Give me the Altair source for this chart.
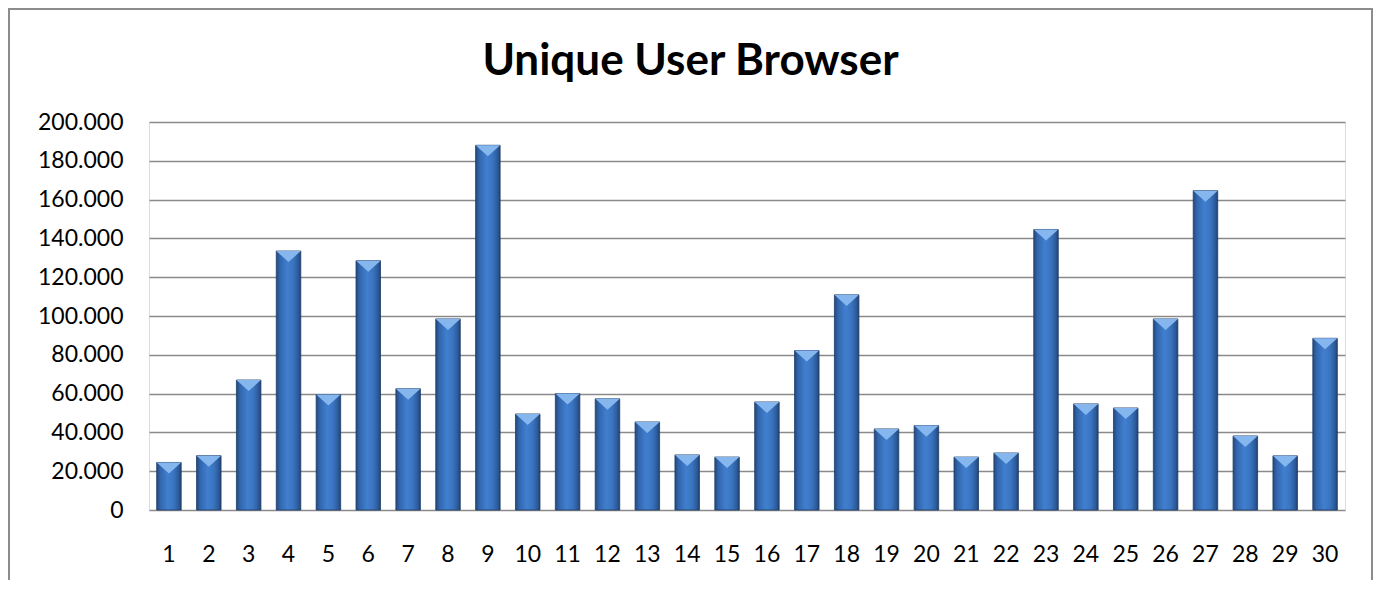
import altair as alt
import pandas as pd

days = list(range(1, 31))
users = [24500, 28000, 67000, 133500, 59500, 128500, 62500, 98500, 188000, 49500,
         60000, 57300, 45400, 28400, 27300, 55700, 82200, 110900, 41800, 43500,
         27300, 29400, 144600, 54700, 52600, 98500, 164600, 38200, 27900, 88500]
y_ticks = list(range(0, 200001, 20000))
title_text = "Unique User Browser"

df = pd.DataFrame({"day": days, "users": users})

FONT = "Lato"

x_axis = alt.Axis(title=None, labelAngle=0, domain=False, ticks=False, tickSize=0,
                  labelPadding=33, labelFontSize=23, labelFont=FONT,
                  labelColor="#000000", grid=False, labelOverlap=False)
y_axis = alt.Axis(title=None, values=y_ticks, tickCount=30, domain=False, ticks=False,
                  tickSize=0, labelPadding=26, labelFontSize=23, labelFont=FONT,
                  labelColor="#000000", grid=True, gridColor="#8a8a8a",
                  gridWidth=1.6, labelOverlap=False,
                  labelExpr="replace(format(datum.value, ','), ',', '.')")

x_enc = alt.X("day:O", sort=days,
              scale=alt.Scale(paddingInner=0.385, paddingOuter=0.1925), axis=x_axis)
y_enc = alt.Y("users:Q", scale=alt.Scale(domain=[0, 200000], nice=False), axis=y_axis)

grad = alt.Gradient(
    gradient="linear", x1=0, x2=1, y1=0, y2=0,
    stops=[alt.GradientStop(offset=0, color="#23497c"),
           alt.GradientStop(offset=0.15, color="#3266ad"),
           alt.GradientStop(offset=0.45, color="#407fcf"),
           alt.GradientStop(offset=0.7, color="#3a74c0"),
           alt.GradientStop(offset=0.9, color="#2c5a99"),
           alt.GradientStop(offset=1, color="#1f4270")])

bars = alt.Chart(df).mark_bar(color=grad, stroke="#1e3d68", strokeWidth=0.8).encode(
    x=x_enc, y=y_enc)

bevel = alt.Chart(df).mark_point(
    shape="M -1 0 L 1 0 L 0 0.9 Z", filled=True, size=600,
    color="#86b6ee", opacity=1, strokeWidth=0).encode(x=x_enc, y=y_enc)

one = pd.DataFrame({"t": [title_text]})

border = alt.Chart(one).mark_rect(
    filled=False, stroke="#8c8c8c", strokeWidth=2).encode(
    x=alt.value(-140), x2=alt.value(1223), y=alt.value(-113), y2=alt.value(480))

title = alt.Chart(one).mark_text(
    font=FONT, fontSize=44, fontWeight="bold", color="#000000",
    align="center", baseline="alphabetic").encode(
    text="t:N", x=alt.value(541.5), y=alt.value(-47))

chart = alt.layer(border, bars, bevel, title).properties(
    width=1196, height=388,
    autosize=alt.AutoSizeParams(type="none"),
    padding={"left": 141, "top": 114, "right": 28, "bottom": 70},
).configure_view(stroke="transparent", strokeWidth=0).configure(background="#ffffff")

chart.save("out.html", embed_options={"renderer": "svg", "actions": False})
